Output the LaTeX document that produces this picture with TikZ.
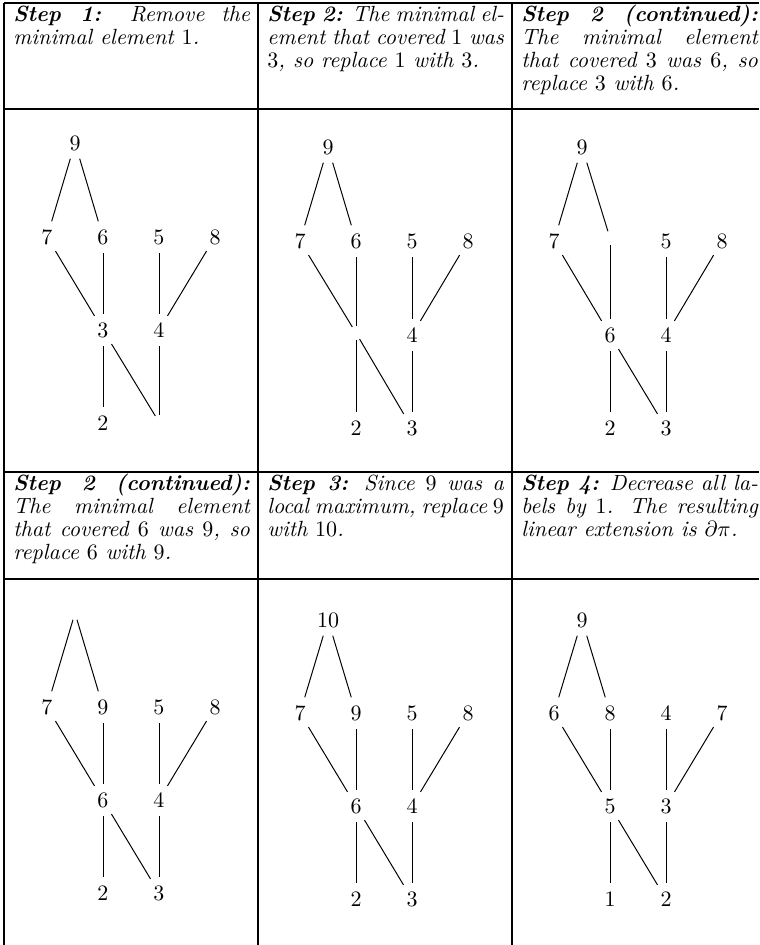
\documentclass[tikz,border=0pt]{standalone}
\begin{document}
\begin{tikzpicture}[x=0.4545pt,y=-0.4545pt,
  v/.style={circle,inner sep=0pt,minimum size=14.5pt},
  ev/.style={circle,inner sep=0pt,minimum size=6pt},
  edge/.style={line width=0.45pt},
  rule/.style={line width=0.7pt},
  txt/.style={anchor=north west,inner sep=0pt,text width=107.5pt,align=justify,
    font=\itshape\fontsize{10pt}{10.45pt}\selectfont}]
\useasboundingbox (0,0) rectangle (759,945);
% table rules
\coordinate (L1) at (4,3);   \coordinate (R1) at (759,3);
\coordinate (L2) at (4,109); \coordinate (R2) at (759,109);
\coordinate (L3) at (4,472); \coordinate (R3) at (759,472);
\coordinate (L4) at (4,579); \coordinate (R4) at (759,579);
\coordinate (V1t) at (4,3);   \coordinate (V1b) at (4,945);
\coordinate (V2t) at (258,3); \coordinate (V2b) at (258,945);
\coordinate (V3t) at (512,3); \coordinate (V3b) at (512,945);
\foreach \a/\b in {L1/R1,L2/R2,L3/R3,L4/R4,V1t/V1b,V2t/V2b,V3t/V3b}
  \draw[rule] (\a) -- (\b);
% texts
\def\st{\rule{0pt}{7.5pt}}
\node[txt] (t1) at (13,5) {\st\textbf{Step 1:} Remove the\linebreak minimal element $1$.};
\node[txt] (t2) at (267,5) {\st\textbf{Step 2:} The minimal el-\linebreak ement that covered $1$ was\linebreak $3$, so replace $1$ with $3$.};
\node[txt] (t3) at (521,5) {\st\textbf{Step 2 (continued):}\linebreak The minimal element\linebreak that covered $3$ was $6$, so\linebreak replace $3$ with $6$.};
\node[txt] (t4) at (13,474) {\st\textbf{Step 2 (continued):}\linebreak The minimal element\linebreak that covered $6$ was $9$, so\linebreak replace $6$ with $9$.};
\node[txt] (t5) at (267,474) {\st\textbf{Step 3:} Since $9$ was a\linebreak local maximum, replace $9$\linebreak with $10$.};
\node[txt] (t6) at (521,474) {\st\textbf{Step 4:} Decrease all la-\linebreak bels by $1$. The resulting\linebreak linear extension is $\partial\pi$.};
% diagram 1
\node[v] (aT) at (75,143) {$9$};
\node[v] (aA) at (47,237) {$7$};
\node[v] (aB) at (103,237) {$6$};
\node[v] (aC) at (159,237) {$5$};
\node[v] (aD) at (215,237) {$8$};
\node[v] (aE) at (103,330) {$3$};
\node[v] (aF) at (159,330) {$4$};
\node[v] (aG) at (103,423) {$2$};
\node[ev] (aH) at (159,422) {};
% diagram 2
\node[v] (bT) at (328,147) {$9$};
\node[v] (bA) at (300,241) {$7$};
\node[v] (bB) at (356,241) {$6$};
\node[v] (bC) at (412,241) {$5$};
\node[v] (bD) at (468,241) {$8$};
\node[ev] (bE) at (356,333) {};
\node[v] (bF) at (412,335) {$4$};
\node[v] (bG) at (356,428) {$2$};
\node[v] (bH) at (412,428) {$3$};
% diagram 3
\node[v] (cT) at (582,147) {$9$};
\node[v] (cA) at (554,241) {$7$};
\node[ev] (cB) at (610,238) {};
\node[v] (cC) at (666,241) {$5$};
\node[v] (cD) at (722,241) {$8$};
\node[v] (cE) at (610,335) {$6$};
\node[v] (cF) at (666,335) {$4$};
\node[v] (cG) at (610,428) {$2$};
\node[v] (cH) at (666,428) {$3$};
% diagram 4
\node[ev] (dT) at (75,613) {};
\node[v] (dA) at (47,707) {$7$};
\node[v] (dB) at (103,707) {$9$};
\node[v] (dC) at (159,707) {$5$};
\node[v] (dD) at (215,707) {$8$};
\node[v] (dE) at (103,800) {$6$};
\node[v] (dF) at (159,800) {$4$};
\node[v] (dG) at (103,893) {$2$};
\node[v] (dH) at (159,893) {$3$};
% diagram 5
\node[v] (eT) at (328,620) {$10$};
\node[v] (eA) at (300,713) {$7$};
\node[v] (eB) at (356,713) {$9$};
\node[v] (eC) at (412,713) {$5$};
\node[v] (eD) at (468,713) {$8$};
\node[v] (eE) at (356,806) {$6$};
\node[v] (eF) at (412,806) {$4$};
\node[v] (eG) at (356,899) {$2$};
\node[v] (eH) at (412,899) {$3$};
% diagram 6
\node[v] (fT) at (582,620) {$9$};
\node[v] (fA) at (554,713) {$6$};
\node[v] (fB) at (610,713) {$8$};
\node[v] (fC) at (666,713) {$4$};
\node[v] (fD) at (722,713) {$7$};
\node[v] (fE) at (610,806) {$5$};
\node[v] (fF) at (666,806) {$3$};
\node[v] (fG) at (610,899) {$1$};
\node[v] (fH) at (666,899) {$2$};
% edges
\foreach \p in {a,b,c,d,e,f}{
  \draw[edge] (\p T) -- (\p A);
  \draw[edge] (\p T) -- (\p B);
  \draw[edge] (\p A) -- (\p E);
  \draw[edge] (\p B) -- (\p E);
  \draw[edge] (\p C) -- (\p F);
  \draw[edge] (\p D) -- (\p F);
  \draw[edge] (\p E) -- (\p G);
  \draw[edge] (\p E) -- (\p H);
  \draw[edge] (\p F) -- (\p H);
}
\end{tikzpicture}
\end{document}
